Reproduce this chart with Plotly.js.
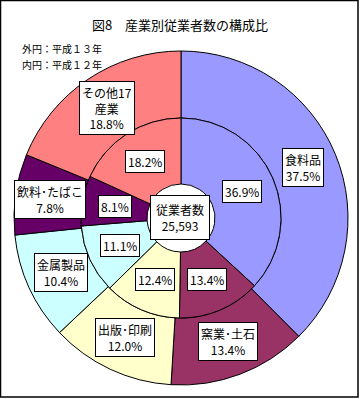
<!DOCTYPE html>
<html>
<head>
<meta charset="utf-8">
<script src="https://cdn.plot.ly/plotly-3.0.1.min.js"></script>
<style>html,body{margin:0;padding:0;background:#fff;}#chart{width:361px;height:399px;}</style>
</head>
<body>
<div id="chart"></div>
<script>
// ---- data ----
const categories = ["食料品", "窯業･土石", "出版･印刷", "金属製品", "飲料･たばこ", "その他17産業"];
const outerLabels = ["食料品", "窯業･土石", "出版･印刷", "金属製品", "飲料･たばこ", "その他17<br>産業"];
const outerValues = [37.5, 13.4, 12.0, 10.4, 7.8, 18.8];   // 外円：平成13年
const innerValues = [36.9, 13.4, 12.4, 11.1, 8.1, 18.2];   // 内円：平成12年
const colors = ["#9999FF", "#993366", "#FFFFCC", "#CCFFFF", "#660066", "#FF8080"];
const centerLabel = "従業者数";
const centerTotal = "25,593";
const titleText = "図8　産業別従業者数の構成比";
const noteLines = ["外円：平成１３年", "内円：平成１２年"];

// ---- geometry (layout) ----
const W = 361, H = 399;
const CX = 181, CY = 218;
const R_OUT = 167, R_MID = 100, R_IN = 34;
const FONT = '"Noto Sans CJK JP", "Noto Sans", sans-serif';

function dom(r) {
  return {x: [(CX - r) / W, (CX + r) / W], y: [(H - CY - r) / H, (H - CY + r) / H]};
}
function fmt(v) { return v.toFixed(1) + "%"; }

const lineStyle = {color: "#000", width: 1};
const traces = [
  {type: "pie", values: outerValues, labels: categories, marker: {colors: colors, line: lineStyle},
   sort: false, direction: "clockwise", rotation: 0, hole: R_MID / R_OUT, domain: dom(R_OUT),
   textinfo: "none", hoverinfo: "label+value"},
  {type: "pie", values: innerValues, labels: categories, marker: {colors: colors, line: lineStyle},
   sort: false, direction: "clockwise", rotation: 0, hole: R_IN / R_MID, domain: dom(R_MID),
   textinfo: "none", hoverinfo: "label+value"}
];

// labels at mid-angle of each slice
function sliceAnnotations(values, radius, textFn) {
  const total = values.reduce((a, b) => a + b, 0);
  let cum = 0;
  return values.map((v, i) => {
    const mid = (cum + v / 2) / total * 2 * Math.PI;
    cum += v;
    const px = CX + radius * Math.sin(mid);
    const py = CY - radius * Math.cos(mid);
    return {xref: "paper", yref: "paper", x: px / W, y: (H - py) / H, xanchor: "center", yanchor: "middle",
      text: textFn(i), showarrow: false, bgcolor: "#fff", bordercolor: "#000", borderwidth: 1, borderpad: 2,
      font: {family: FONT, size: 12, color: "#000"}};
  });
}

const notes = noteLines.map((t, i) => ({
  xref: "paper", yref: "paper", x: 20 / W, y: (H - (48 + 16 * i)) / H, xanchor: "left", yanchor: "middle",
  text: t, showarrow: false, font: {family: FONT, size: 10, color: "#000"}
}));

const annotations = []
  .concat(sliceAnnotations(outerValues, 132, i => outerLabels[i] + "<br>" + fmt(outerValues[i])))
  .concat(sliceAnnotations(innerValues, 67, i => fmt(innerValues[i])))
  .concat([
    {xref: "paper", yref: "paper", x: (CX - 1) / W, y: (H - 217) / H, xanchor: "center", yanchor: "middle",
     text: centerLabel + "<br>" + centerTotal, showarrow: false, bgcolor: "#fff", bordercolor: "#000",
     borderwidth: 1, borderpad: 5, font: {family: FONT, size: 12, color: "#000"}}
  ])
  .concat(notes);

const layout = {
  width: W, height: H,
  margin: {l: 0, r: 0, t: 0, b: 0},
  paper_bgcolor: "#fff",
  showlegend: false,
  title: {text: titleText, x: 180 / W, xanchor: "center", y: 1 - 25 / H, yanchor: "middle",
          font: {family: FONT, size: 13, color: "#000"}},
  annotations: annotations,
  shapes: [{type: "rect", xref: "paper", yref: "paper", x0: 0.5 / W, x1: 358 / W, y0: 1 - 397 / H, y1: 1 - 0.5 / H,
            line: {color: "#000", width: 1.5}}]
};

Plotly.newPlot("chart", traces, layout, {displayModeBar: false, staticPlot: true});
</script>
</body>
</html>
